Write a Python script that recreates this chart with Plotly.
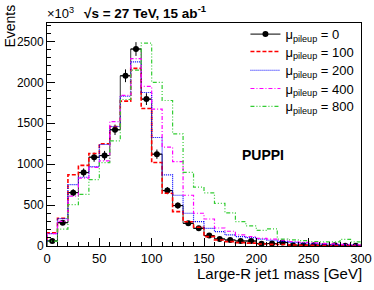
import plotly.graph_objects as go

# ---- data (values in units of 10^3 events) ----
bin_edges = [0, 10, 20, 30, 40, 50, 60, 70, 80, 90, 100, 110, 120, 130, 140, 150,
             160, 170, 180, 190, 200, 210, 220, 230, 240, 250, 260, 270, 280, 290, 300]
bin_centers = [5, 15, 25, 35, 45, 55, 65, 75, 85, 95, 105, 115, 125, 135, 145, 155,
               165, 175, 185, 195, 205, 215, 225, 235, 245, 255, 265, 275, 285, 295]

mu0 = [62, 285, 652, 897, 1085, 1105, 1420, 2080, 2407, 1795, 1122, 677, 494, 277, 216,
       127, 86, 73, 61, 61, 29, 30, 42, 10, 10, 10, 3, 10, 4, 4]
mu0_err = [13, 29, 43, 51, 56, 57, 64, 78, 84, 72, 57, 44, 38, 28, 25,
           19, 16, 15, 13, 13, 9, 9, 11, 5, 5, 5, 3, 5, 3, 3]
mu100 = [160, 340, 870, 985, 1130, 1250, 1460, 1770, 2170, 1680, 1020, 645, 420, 297, 229,
         114, 73, 53, 41, 35, 25, 20, 18, 12, 10, 8, 6, 5, 4, 3]
mu200 = [150, 335, 750, 840, 970, 1240, 1460, 1830, 2250, 1876, 1326, 869, 620, 400, 297,
         216, 175, 135, 114, 102, 85, 70, 55, 45, 35, 30, 22, 18, 14, 12]
mu400 = [150, 300, 610, 830, 960, 1040, 1521, 1840, 2290, 1950, 1673, 1208, 1030, 620, 400,
         330, 220, 180, 135, 114, 94, 85, 70, 55, 45, 38, 30, 25, 20, 15]
mu800 = [60, 205, 505, 630, 810, 1020, 1285, 1790, 2150, 2480, 2000, 1778, 1370, 900, 720,
         650, 522, 405, 297, 245, 190, 210, 85, 75, 65, 55, 50, 50, 82, 50]

series_names = ["0", "100", "200", "400", "800"]
x_ticks = [0, 50, 100, 150, 200, 250, 300]
y_ticks = [0, 500, 1000, 1500, 2000, 2500]
y_tick_labels = ["0", "500", "1000", "1500", "2000", "2500"]

FONT = "Liberation Sans, Arial, Helvetica, sans-serif"


def step_xy(values):
    xs = [bin_edges[0]] + bin_edges[:-1] + [bin_edges[-1], bin_edges[-1]]
    ys = [0] + list(values) + [values[-1], 0]
    return xs, ys


def leg_name(n):
    return "\u03bc<sub>pileup</sub> = " + n


legend_ids = ["legend", "legend2", "legend3", "legend4", "legend5"]
legend_y = [0.950, 0.872, 0.788, 0.706, 0.626]

fig = go.Figure()

# black histogram line
sx, sy = step_xy(mu0)
fig.add_trace(go.Scatter(x=sx, y=sy, mode="lines", line_shape="hv",
                         line=dict(color="#333333", width=1), showlegend=False,
                         hoverinfo="skip"))

styles = [
    (mu100, "#ff0000", "4px,2px", 1.6),
    (mu200, "#0000ff", "1px,1px", 1.2),
    (mu400, "#ff00ff", "4px,2px,1px,2px", 1.2),
    (mu800, "#33cc33", "4px,2px,1px,2px,1px,2px", 1.2),
]

# points with error bars (gaps interleaved so the legend shows line + marker)
px, py, pe, pxe = [], [], [], []
for c, v, e in zip(bin_centers, mu0, mu0_err):
    px += [c, None]
    py += [v, None]
    pe += [e, 0]
    pxe += [5, 0]
fig.add_trace(go.Scatter(
    x=px, y=py, mode="lines+markers", connectgaps=False,
    name=leg_name(series_names[0]), legend=legend_ids[0],
    line=dict(color="black", width=1),
    marker=dict(color="black", size=6),
    error_y=dict(type="data", array=pe, color="black", thickness=1, width=0),
    error_x=dict(type="data", array=pxe, color="black", thickness=1, width=0),
))

for i, (vals, col, dash, w) in enumerate(styles):
    sx, sy = step_xy(vals)
    fig.add_trace(go.Scatter(x=sx, y=sy, mode="lines", line_shape="hv",
                             name=leg_name(series_names[i + 1]),
                             legend=legend_ids[i + 1],
                             line=dict(color=col, width=w, dash=dash)))

legend_common = dict(xanchor="left", yanchor="middle", bgcolor="rgba(255,255,255,0)",
                     font=dict(size=13, family=FONT), itemwidth=30, borderwidth=0)
layout_legends = {}
for lid, ly in zip(legend_ids, legend_y):
    layout_legends[lid] = dict(x=0.632, y=ly, **legend_common)

fig.update_layout(
    width=374, height=290,
    margin=dict(l=47, r=13, t=23, b=44, autoexpand=False),
    paper_bgcolor="white", plot_bgcolor="white",
    font=dict(family=FONT, color="black"),
    showlegend=True,
    xaxis=dict(range=[0, 300], tickvals=x_ticks, ticks="inside", ticklen=8,
               tickcolor="black", showline=True, linecolor="black", linewidth=1,
               mirror=True, showgrid=False, zeroline=False, automargin=False,
               tickfont=dict(size=13, family=FONT),
               minor=dict(dtick=10, ticks="inside", ticklen=4, tickcolor="black",
                          showgrid=False)),
    yaxis=dict(range=[0, 2725], tickvals=y_ticks, ticktext=y_tick_labels,
               ticks="inside", ticklen=8, tickcolor="black", showline=True,
               linecolor="black", linewidth=1, mirror=True, showgrid=False,
               zeroline=False, automargin=False, tickfont=dict(size=12, family=FONT),
               minor=dict(dtick=100, ticks="inside", ticklen=4, tickcolor="black",
                          showgrid=False)),
    **layout_legends,
)

fig.add_annotation(text="\u00d710<sup>3</sup>", xref="paper", yref="paper",
                   x=-0.006, y=1.045, xanchor="left", yanchor="middle", showarrow=False,
                   font=dict(size=13, family=FONT))
fig.add_annotation(text="<b>\u221as = 27 TeV, 15 ab<sup>-1</sup></b>", xref="paper",
                   yref="paper", x=0.113, y=1.05, xanchor="left", yanchor="middle",
                   showarrow=False, font=dict(size=13.5, family=FONT))
fig.add_annotation(text="<b>PUPPI</b>", xref="paper", yref="paper", x=0.615, y=0.41,
                   xanchor="left", yanchor="middle", showarrow=False,
                   font=dict(size=14, family=FONT))
fig.add_annotation(text="Large-R jet1 mass [GeV]", xref="paper", yref="paper",
                   x=1.008, y=-0.125, xanchor="right", yanchor="middle",
                   showarrow=False, font=dict(size=15, family=FONT))
fig.add_annotation(text="Events", xref="paper", yref="paper", x=-0.117, y=0.985,
                   xanchor="center", yanchor="middle", textangle=-90,
                   showarrow=False, font=dict(size=14, family=FONT))

fig.write_html("out.html",
               config={"displayModeBar": False},
               post_script="document.body.style.margin='0';"
                           "document.body.style.overflow='hidden';")
